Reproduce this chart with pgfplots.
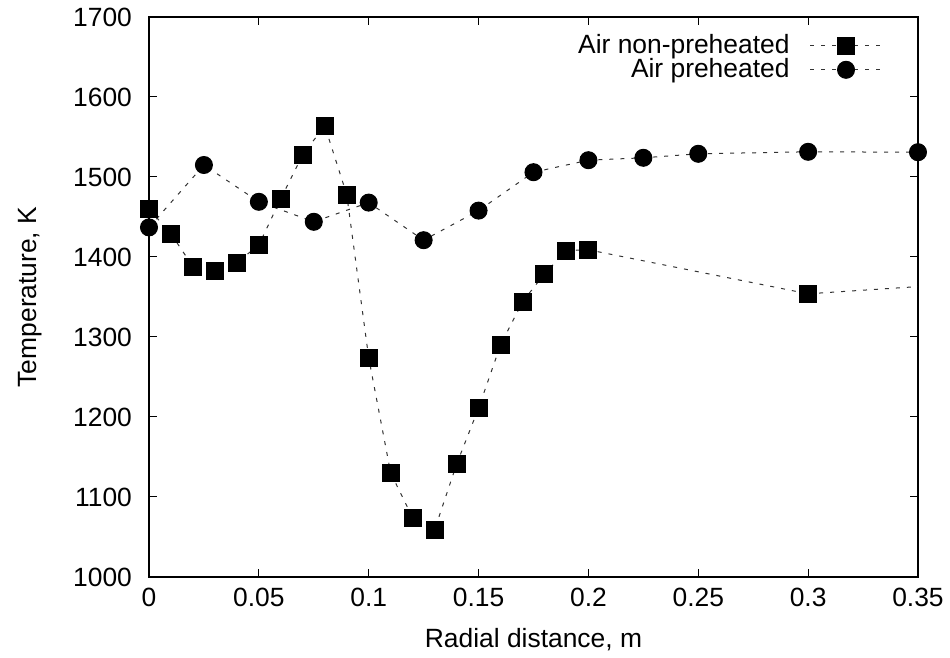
\documentclass[border=0pt]{standalone}
\usepackage{fontspec}
\setmainfont{Liberation Sans}
\usepackage{pgfplots}
\pgfplotsset{compat=1.18}

\newcommand{\lblfont}{\fontsize{13.2}{15}\selectfont}

\begin{document}
\begin{tikzpicture}
% fixed page frame, 0.5pt per reference pixel
\path[use as bounding box] (-74.5pt,-40.5pt) rectangle (400.5pt,288.5pt);
\begin{axis}[
  scale only axis,
  width=384.5pt, height=280pt,
  anchor=south west, at={(0pt,0pt)},
  xmin=0, xmax=0.35,
  ymin=1000, ymax=1700,
  xtick={0,0.05,...,0.35},
  ytick={1000,1100,...,1700},
  tick align=inside,
  major tick length=4pt,
  axis line style={line width=0.8pt},
  tick style={line width=0.5pt, black},
  /pgf/number format/assume math mode=true,
  /pgf/number format/1000 sep={},
  xticklabels={0,0.05,0.1,0.15,0.2,0.25,0.3,0.35},
  tick label style={font=\lblfont},
  yticklabel style={xshift=-5pt},
  xticklabel style={yshift=-2pt},
  label style={font=\lblfont},
  xlabel={Radial distance, m},
  ylabel={Temperature, K},
  xlabel style={at={(axis description cs:0.5,-0.112)}, anchor=center},
  ylabel style={at={(axis description cs:-0.1547,0.5)}, anchor=center},
  legend plot pos=right,
  legend cell align=right,
  legend style={font=\lblfont, draw=none, fill=none,
    at={(axis description cs:0.957,0.98)}, anchor=north east,
    row sep=-3pt, inner sep=1pt},
  legend image code/.code={%
    \path (0pt,0pt);
    \draw[mark repeat=2, mark phase=2, #1]
      plot coordinates {(8pt,0pt) (26pt,0pt) (44pt,0pt)};},
  dline/.style={black!80, line width=0.5pt, dash pattern=on 2pt off 3.5pt},
]
  %% air non-preheated
  \addplot[dline, mark=square*, mark size=4.25pt,
    mark options={solid, black}]
    coordinates {
      (0,1460) (0.01,1429) (0.02,1388) (0.03,1383) (0.04,1393)
      (0.05,1415) (0.06,1473) (0.07,1528) (0.08,1564) (0.09,1478)
      (0.10,1274) (0.11,1130) (0.12,1074) (0.13,1059) (0.14,1141)
      (0.15,1211) (0.16,1290) (0.17,1344) (0.18,1379) (0.19,1408)
      (0.20,1409) (0.30,1354)
    };
  \addlegendentry{Air non-preheated}
  % the curve runs on past the right edge
  \addplot[dline, forget plot] coordinates {(0.30,1354) (0.40,1372)};
  %% air preheated
  \addplot[dline, mark=*, mark size=4.25pt, mark options={solid, black}]
    coordinates {
      (0,1437) (0.025,1515) (0.05,1469) (0.075,1444) (0.1,1468)
      (0.125,1421) (0.15,1458) (0.175,1506) (0.2,1521) (0.225,1524)
      (0.25,1529) (0.3,1531.5) (0.35,1531)
    };
  \addlegendentry{Air preheated}
\end{axis}
\end{tikzpicture}
\end{document}
